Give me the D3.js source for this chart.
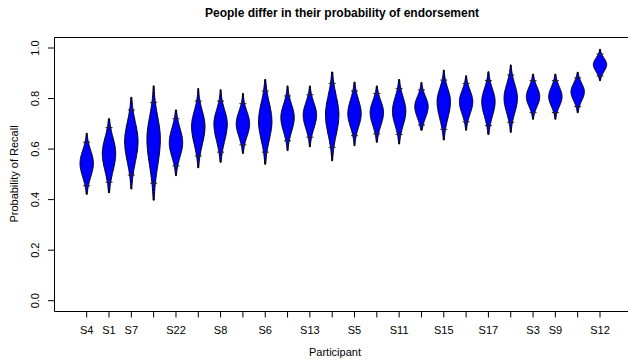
<!DOCTYPE html>
<html><head><meta charset="utf-8">
<script src="https://cdn.jsdelivr.net/npm/d3@7"></script>
<style>body{margin:0;background:#fff}svg{display:block}text{font-family:"Liberation Sans",Arial,sans-serif}</style>
</head><body>
<script>
const participants = ["S4","S1","S7","S18","S22","S2","S8","S14","S6","S19","S13","S10","S5","S24","S11","S16","S15","S20","S17","S21","S3","S9","S23","S12"];
const maxVal   = [0.663,0.720,0.805,0.850,0.755,0.840,0.835,0.820,0.875,0.850,0.850,0.905,0.865,0.850,0.875,0.864,0.913,0.890,0.906,0.933,0.897,0.897,0.904,0.995];
const highTick = [0.627,0.685,0.755,0.785,0.720,0.790,0.790,0.780,0.830,0.810,0.815,0.860,0.830,0.820,0.840,0.834,0.873,0.860,0.871,0.893,0.871,0.871,0.882,0.976];
const modeVal  = [0.544,0.583,0.630,0.640,0.625,0.690,0.700,0.700,0.710,0.725,0.735,0.735,0.740,0.745,0.750,0.768,0.788,0.788,0.788,0.801,0.807,0.807,0.827,0.935];
const lowTick  = [0.455,0.469,0.497,0.465,0.533,0.573,0.588,0.617,0.588,0.633,0.647,0.607,0.653,0.660,0.658,0.695,0.678,0.708,0.693,0.706,0.744,0.745,0.768,0.889];
const minVal   = [0.421,0.427,0.442,0.398,0.495,0.526,0.548,0.583,0.540,0.594,0.609,0.554,0.613,0.627,0.620,0.675,0.636,0.675,0.658,0.666,0.718,0.718,0.744,0.871];
const yTicks = [0,0.2,0.4,0.6,0.8,1.0];

const W=628,H=360;
const box={left:54.5,top:37.5,right:631,bottom:311.5};
const svg=d3.select("body").append("svg").attr("width",W).attr("height",H);
const x=d3.scaleLinear().domain([1,24]).range([86.7,600]);
const y=d3.scaleLinear().domain([0,1]).range([300.7,48]);
const halfW=6.7;

// violins
participants.forEach((p,i)=>{
  const m=modeVal[i], sU=(highTick[i]-m)/1.65, sL=(m-lowTick[i])/1.65;
  const n=80, pts=[];
  for(let k=0;k<=n;k++){
    const v=minVal[i]+(maxVal[i]-minVal[i])*k/n;
    const z=v>=m?(v-m)/sU:(m-v)/sL;
    pts.push([v,halfW*Math.exp(-0.5*z*z)]);
  }
  const cx=x(i+1);
  const line=d3.line().x(d=>d[0]).y(d=>d[1]);
  const right=pts.map(d=>[cx+d[1],y(d[0])]);
  const left=pts.slice().reverse().map(d=>[cx-d[1],y(d[0])]);
  svg.append("line").attr("x1",cx).attr("x2",cx).attr("y1",y(minVal[i])).attr("y2",y(maxVal[i]))
    .attr("stroke","#000").attr("stroke-width",1.5);
  svg.append("path").attr("d",line(right.concat(left))+"Z")
    .attr("fill","#0000ff").attr("stroke","#000").attr("stroke-width",1);
  [lowTick[i],highTick[i]].forEach(t=>{
    svg.append("line").attr("x1",cx-3.5).attr("x2",cx+3.5).attr("y1",y(t)).attr("y2",y(t))
      .attr("stroke","#222").attr("stroke-width",1);
  });
});

// box
svg.append("path").attr("d",`M${box.right},${box.top}H${box.left}V${box.bottom}H${box.right}`)
  .attr("fill","none").attr("stroke","#000").attr("stroke-width",1);

// y axis
const yg=svg.append("g");
yTicks.forEach(t=>{
  yg.append("line").attr("x1",48).attr("x2",box.left).attr("y1",y(t)).attr("y2",y(t)).attr("stroke","#000");
  yg.append("text").attr("transform",`translate(39,${y(t)}) rotate(-90)`).attr("text-anchor","middle")
    .attr("font-size",11).attr("fill","#000").text(t.toFixed(1));
});
yg.append("text").attr("transform",`translate(18,174) rotate(-90)`).attr("text-anchor","middle")
  .attr("font-size",11).text("Probability of Recall");

// x axis (labels skipped when they would crowd, as R does)
const xg=svg.append("g");
let lastRight=-Infinity;
const gap=8;
participants.forEach((p,i)=>{
  const cx=x(i+1);
  xg.append("line").attr("x1",cx).attr("x2",cx).attr("y1",box.bottom).attr("y2",box.bottom+6).attr("stroke","#000");
  const t=xg.append("text").attr("x",cx).attr("y",334).attr("text-anchor","middle").attr("font-size",11).text(p);
  const w=t.node().getComputedTextLength();
  if(cx-w/2 < lastRight+gap){t.remove();} else {lastRight=cx+w/2;}
});
svg.append("text").attr("x",335).attr("y",356).attr("text-anchor","middle").attr("font-size",11).text("Participant");
svg.append("text").attr("x",342).attr("y",17).attr("text-anchor","middle").attr("font-size",12).attr("font-weight","bold").text("People differ in their probability of endorsement");
</script>
</body></html>
